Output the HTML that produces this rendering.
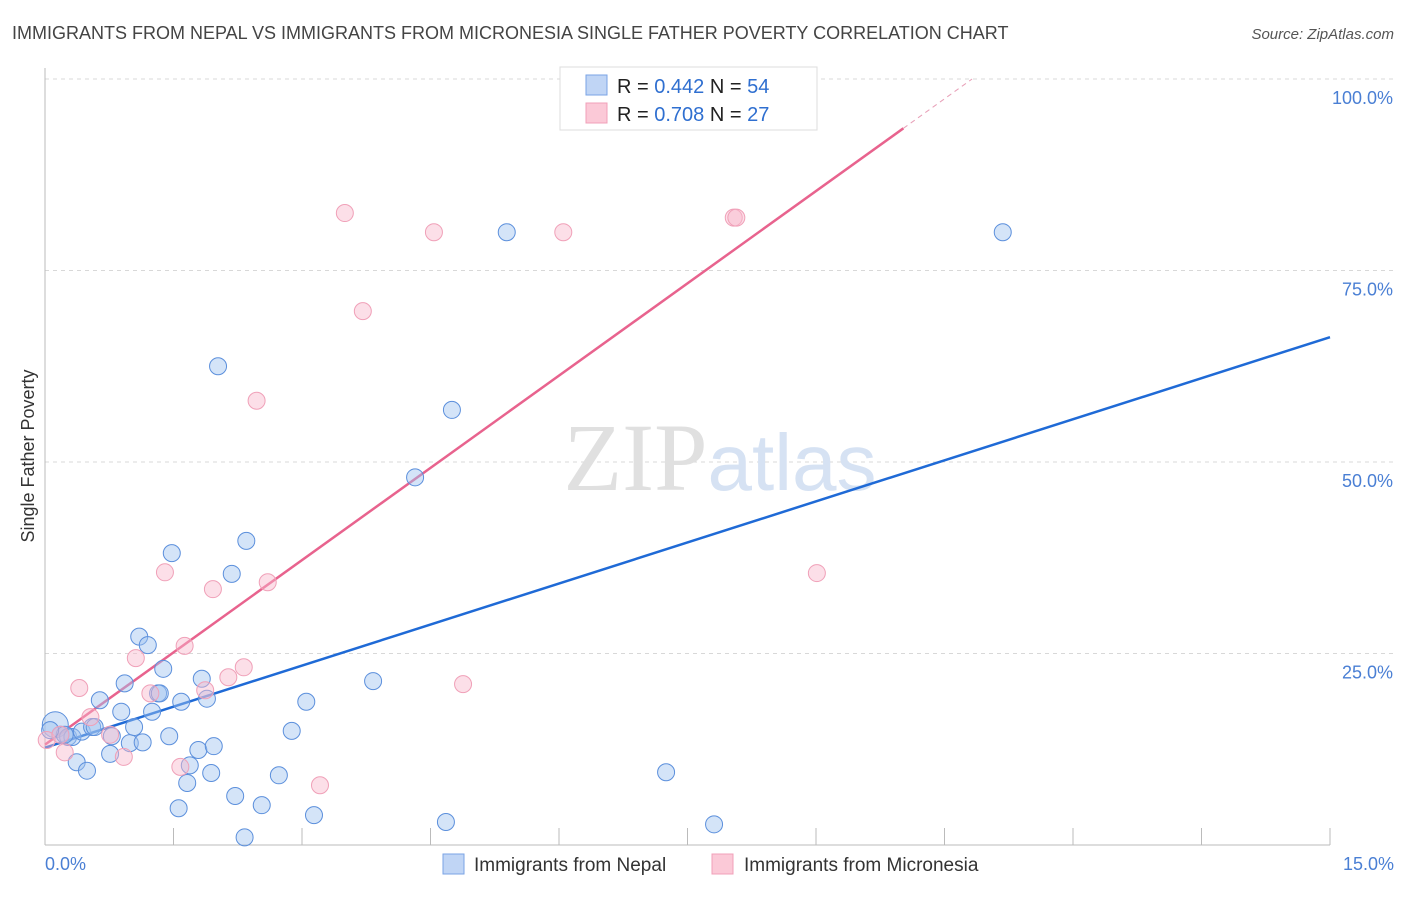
<!DOCTYPE html>
<html><head><meta charset="utf-8"><style>
body{margin:0;background:#fff;width:1406px;height:892px;overflow:hidden;font-family:"Liberation Sans",sans-serif}
</style></head><body>
<svg id="chart" width="1406" height="892" xmlns="http://www.w3.org/2000/svg" font-family="Liberation Sans, sans-serif">
<text x="12" y="39" font-size="18" fill="#444">IMMIGRANTS FROM NEPAL VS IMMIGRANTS FROM MICRONESIA SINGLE FATHER POVERTY CORRELATION CHART</text>
<text x="1394" y="39" font-size="15" fill="#555" text-anchor="end" font-style="italic">Source: ZipAtlas.com</text>
<text transform="translate(34,456) rotate(-90)" font-size="18" fill="#333" text-anchor="middle">Single Father Poverty</text>
<g id="grid"></g>
<text x="720" y="490" font-size="96" text-anchor="middle"><tspan fill="#e0e0e0" font-family="Liberation Serif, serif">ZIP</tspan><tspan fill="#d6e2f3" font-size="80">atlas</tspan></text>
<g id="lines"></g>
<g id="points"></g>
<g>
<rect x="560" y="67" width="257" height="63" fill="#fff" stroke="#ddd"/>
<rect x="586" y="75" width="21" height="20" fill="#c0d5f5" stroke="#7aa3e5"/>
<rect x="586" y="103" width="21" height="20" fill="#fbc9d7" stroke="#f0a0b8"/>
<text x="617" y="93" font-size="20" fill="#222">R = <tspan fill="#2f6fd0">0.442</tspan>   N = <tspan fill="#2f6fd0">54</tspan></text>
<text x="617" y="121" font-size="20" fill="#222">R = <tspan fill="#2f6fd0">0.708</tspan>   N = <tspan fill="#2f6fd0"> 27</tspan></text>
</g>
<g>
<rect x="443" y="854" width="21" height="20" fill="#c0d5f5" stroke="#7aa3e5"/>
<text x="474" y="871" font-size="19" fill="#333">Immigrants from Nepal</text>
<rect x="712" y="854" width="21" height="20" fill="#fbc9d7" stroke="#f0a0b8"/>
<text x="744" y="871" font-size="19" fill="#333">Immigrants from Micronesia</text>
</g>
</svg>
<script>
const nepalX=[0.12,0.18,0.27,0.32,0.37,0.49,0.43,0.55,0.64,0.76,0.78,0.89,0.93,0.99,1.04,1.10,1.14,1.20,1.25,1.38,1.32,1.45,1.48,1.59,1.66,1.56,1.69,1.79,1.83,1.89,1.94,1.97,2.02,2.18,2.22,2.35,2.33,2.53,2.73,2.88,3.05,3.14,3.83,4.32,4.68,4.75,5.39,7.25,7.81,11.18,0.58,0.23,0.06,1.34];
const nepalY=[15.7,14.4,14.1,14.1,10.8,9.7,14.8,15.4,18.9,11.9,14.2,17.4,21.1,13.3,15.4,27.2,13.4,26.1,17.4,23.0,19.8,14.2,38.1,18.7,8.1,4.8,10.4,12.4,21.7,19.1,9.4,12.9,62.5,35.4,6.4,39.7,1.0,5.2,9.1,14.9,18.7,3.9,21.4,48.0,3.0,56.8,80.0,9.5,2.7,80.0,15.4,14.4,15.0,19.8];
const microX=[0.02,0.18,0.23,0.40,0.53,0.76,0.92,1.06,1.23,1.40,1.58,1.63,1.87,1.96,2.14,2.32,2.47,2.60,3.21,3.50,3.71,4.54,4.88,6.05,8.04,8.07,9.01];
const microY=[13.7,14.4,12.1,20.5,16.7,14.4,11.5,24.4,19.8,35.6,10.2,26.0,20.2,33.4,21.9,23.2,58.0,34.3,7.8,82.5,69.7,80.0,21.0,80.0,81.9,81.9,35.5];
const nepalTrend=[12.7,66.3];
const microTrend=[13.1,8.03];
const yTicks=[25,50,75,100];
const xTickLabels=["0.0%","15.0%"];
const NS="http://www.w3.org/2000/svg";
const X0=45,X1=1330,Y0=845,Y100=79;
const sx=v=>X0+(X1-X0)*v/15;
const sy=v=>Y0-(Y0-Y100)*v/100;
function mk(tag,attrs,parent){const e=document.createElementNS(NS,tag);for(const k in attrs)e.setAttribute(k,attrs[k]);parent.appendChild(e);return e;}
const grid=document.getElementById('grid');
yTicks.forEach(t=>{
 const l=mk('line',{x1:X0,x2:1394,y1:sy(t),y2:sy(t),stroke:'#d8d8d8','stroke-dasharray':'4,4'},grid);
 
 
 const tx=mk('text',{x:1393,y:sy(t)+25,'font-size':18,fill:'#4a7fd4','text-anchor':'end'},grid);
 tx.textContent=t.toFixed(1)+'%';
 
 
});
const ax=mk('line',{x1:X0,x2:X0,y1:68,y2:Y0,stroke:'#bbb'},grid);


const bx=mk('line',{x1:X0,x2:X1,y1:Y0,y2:Y0,stroke:'#bbb'},grid);


for(let i=1;i<=10;i++){const t=mk('line',{x1:sx(i*1.5),x2:sx(i*1.5),y1:Y0,y2:828,stroke:'#bbb'},grid);
 
 }
const xl0=mk('text',{x:45,y:870,'font-size':18,fill:'#4a7fd4'},grid);xl0.textContent=xTickLabels[0];


const xl1=mk('text',{x:1394,y:870,'font-size':18,fill:'#4a7fd4','text-anchor':'end'},grid);xl1.textContent=xTickLabels[1];


const pts=document.getElementById('points');
nepalX.forEach((x,i)=>{const c=mk('circle',{cx:sx(x),cy:sy(nepalY[i]),r:i===0?13:8.5,fill:'rgba(160,195,240,0.45)',stroke:'#5b8fdc','stroke-width':1},pts);
 
 });
microX.forEach((x,i)=>{const c=mk('circle',{cx:sx(x),cy:sy(microY[i]),r:8.5,fill:'rgba(248,185,205,0.45)',stroke:'#f0a0b8','stroke-width':1},pts);
 
 });
const lines=document.getElementById('lines');
const bl=mk('line',{x1:sx(0),y1:sy(nepalTrend[0]),x2:sx(15),y2:sy(nepalTrend[1]),stroke:'#1f6ad6','stroke-width':2.5},lines);


const xEnd=10.02, xTop=(100-microTrend[0])/microTrend[1];
const pl=mk('line',{x1:sx(0),y1:sy(microTrend[0]),x2:sx(xEnd),y2:sy(microTrend[0]+microTrend[1]*xEnd),stroke:'#e8638e','stroke-width':2.5},lines);


const pd=mk('line',{x1:sx(xEnd),y1:sy(microTrend[0]+microTrend[1]*xEnd),x2:sx(xTop),y2:sy(100),stroke:'#e8a0b8','stroke-width':1,'stroke-dasharray':'5,4'},lines);


</script>
</body></html>
